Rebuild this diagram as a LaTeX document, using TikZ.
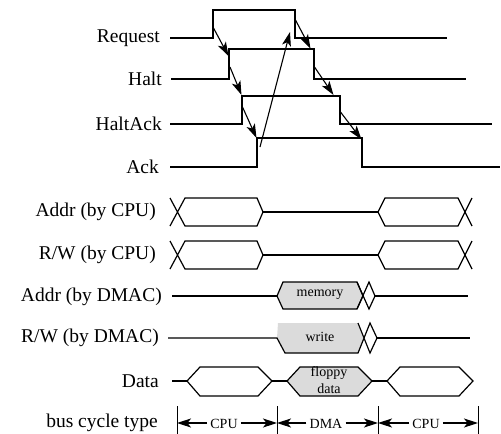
\documentclass[tikz,border=0pt]{standalone}
\usepackage{fontspec}
\setmainfont{Liberation Serif}
\newfontfamily\timesfont{Liberation Serif}
\usepackage{xcolor}
\usepackage{tikz}
\usetikzlibrary{calc, arrows.meta, positioning}
\definecolor{busgray}{gray}{0.86}
\tikzset{
    textnode/.style  = {draw=none, fill=none, rectangle, minimum size=0cm, inner sep = 0em, 
      node distance=0em, anchor=east, font=\timesfont\fontsize{19.5}{22}\selectfont},
    smalltextnode/.style  = {draw=none, fill=none, rectangle, minimum size=0cm, inner sep = 0em, 
      node distance=0em, font=\timesfont\fontsize{14}{17}\selectfont},
    cyclenode/.style = {smalltextnode, inner sep = 3pt},
    wave/.style = {black, line width=1.2pt, line join=miter},
    busfill/.style = {fill=busgray},
    sigarrow/.style = {black, line width=1.1pt, -{Stealth[length=14pt, width=9pt, inset=3.5pt]}},
    every text node part/.style={align=center}
}

\begin{document}
\begin{tikzpicture}[x=1pt, y=-1pt]
\useasboundingbox (0,0) rectangle (501,434);
% signal names
\node[textnode, name=req] at (160,38) {Request};
\node[textnode, name=halt] at (162,79) {Halt};
\node[textnode, name=haltack] at (162,124) {HaltAck};
\node[textnode, name=ack] at (159,167) {Ack};
\node[textnode, name=addrcpu] at (156,212) {Addr (by CPU)};
\node[textnode, name=rwcpu] at (156,255) {R/W (by CPU)};
\node[textnode, name=addrdmac] at (162,297) {Addr (by DMAC)};
\node[textnode, name=rwdmac] at (159,338) {R/W (by DMAC)};
\node[textnode, name=data] at (159,381) {Data};
\node[textnode, name=cycle] at (158,423) {bus cycle type};

% handshake
\draw[wave] (170,38) -- (213,38) -- (213,10) -- (295,10) -- (295,38) -- (447,38);
\draw[wave] (171,79) -- (229,79) -- (229,49) -- (314,49) -- (314,79) -- (466,79);
\draw[wave] (170,124) -- (242,124) -- (242,96) -- (340,96) -- (340,124) -- (492,124);
\draw[wave] (170,167) -- (257,167) -- (257,138) -- (362,138) -- (362,167) -- (500,167);

\coordinate (reqrise) at (213.5,28);   \coordinate (haltup) at (228.5,56);
\coordinate (haltrise) at (230,67);    \coordinate (haltackup) at (241.5,95);
\coordinate (haltackrise) at (242.5,107); \coordinate (ackup) at (256.5,138);
\coordinate (ackrise) at (260,147);    \coordinate (reqdown) at (290,32);
\coordinate (reqfall) at (295.5,20);   \coordinate (haltdown) at (310.5,48.5);
\coordinate (haltfall) at (314.5,67);  \coordinate (haltackdown) at (333.5,95);
\coordinate (haltackfall) at (340.5,112); \coordinate (ackdown) at (361.5,139.5);
\draw[sigarrow] (reqrise) -- (haltup);
\draw[sigarrow] (haltrise) -- (haltackup);
\draw[sigarrow] (haltackrise) -- (ackup);
\draw[sigarrow] (ackrise) -- (reqdown);
\draw[sigarrow] (reqfall) -- (haltdown);
\draw[sigarrow] (haltfall) -- (haltackdown);
\draw[sigarrow] (haltackfall) -- (ackdown);

% CPU buses
\draw[wave] (170,198) -- (185,226) -- (257,226) -- (263,212) -- (257,198) -- (185,198) -- (170,226);
\draw[wave] (263,212) -- (378,212);
\draw[wave] (472,198) -- (458,226) -- (385,226) -- (378,212) -- (385,198) -- (458,198) -- (472,226);
\draw[wave] (170,241) -- (185,269) -- (257,269) -- (263,255) -- (257,241) -- (185,241) -- (170,269);
\draw[wave] (263,255) -- (378,255);
\draw[wave] (472,241) -- (458,269) -- (385,269) -- (378,255) -- (385,241) -- (458,241) -- (472,269);

% DMAC buses
\draw[wave] (172,296) -- (277,296);
\filldraw[wave, busfill] (277,296) -- (283,282) -- (357,282) -- (363,296) -- (357,309) -- (283,309) -- cycle;
\draw[wave] (357,282) -- (369,309) -- (375,296) -- (369,282) -- (357,309);
\draw[wave] (375,296) -- (468,296);
\node[smalltextnode, name=memory] at (320,295) {memory};

\fill[busfill] (278,323) -- (277,338) -- (285,353) -- (358,353) -- (364,338) -- (358,323) -- cycle;
\draw[wave] (168,338) -- (277,338) -- (285,353) -- (358,353) -- (370,323) -- (377,338) -- (370,353) -- (358,323);
\draw[wave] (377,338) -- (470,338);
\node[smalltextnode, name=write] at (320,337) {write};

% data bus
\draw[wave] (172,381) -- (187,381);
\draw[wave] (187,381) -- (200,367) -- (258,367) -- (272,381) -- (258,396) -- (200,396) -- cycle;
\draw[wave] (272,381) -- (287,381);
\filldraw[wave, busfill] (287,381) -- (300,367) -- (358,367) -- (372,381) -- (358,396) -- (300,396) -- cycle;
\draw[wave] (372,381) -- (387,381);
\draw[wave] (387,381) -- (400,367) -- (459,367) -- (473,381) -- (459,396) -- (400,396) -- cycle;
\node[smalltextnode, name=floppy] at (329,380) {floppy\\data};

% bus cycles
\coordinate (bara) at (177,423); \coordinate (barb) at (277,423);
\coordinate (barc) at (378,423); \coordinate (bard) at (478,423);
\draw[wave, line width=1pt] (177,406) -- (177,434);
\draw[wave, line width=1pt] (277,406) -- (277,434);
\draw[wave, line width=1pt] (378,406) -- (378,434);
\draw[wave, line width=1pt] (478,406) -- (478,434);
\node[cyclenode, name=cpua] at (224,424) {CPU};
\node[cyclenode, name=dma] at (326,424) {DMA};
\node[cyclenode, name=cpub] at (426,424) {CPU};
\draw[sigarrow] (cpua.west |- bara) -- (bara);
\draw[sigarrow] (cpua.east |- bara) -- (barb);
\draw[sigarrow] (dma.west |- bara) -- (barb);
\draw[sigarrow] (dma.east |- bara) -- (barc);
\draw[sigarrow] (cpub.west |- bara) -- (barc);
\draw[sigarrow] (cpub.east |- bara) -- (bard);
\end{tikzpicture}
\end{document}
